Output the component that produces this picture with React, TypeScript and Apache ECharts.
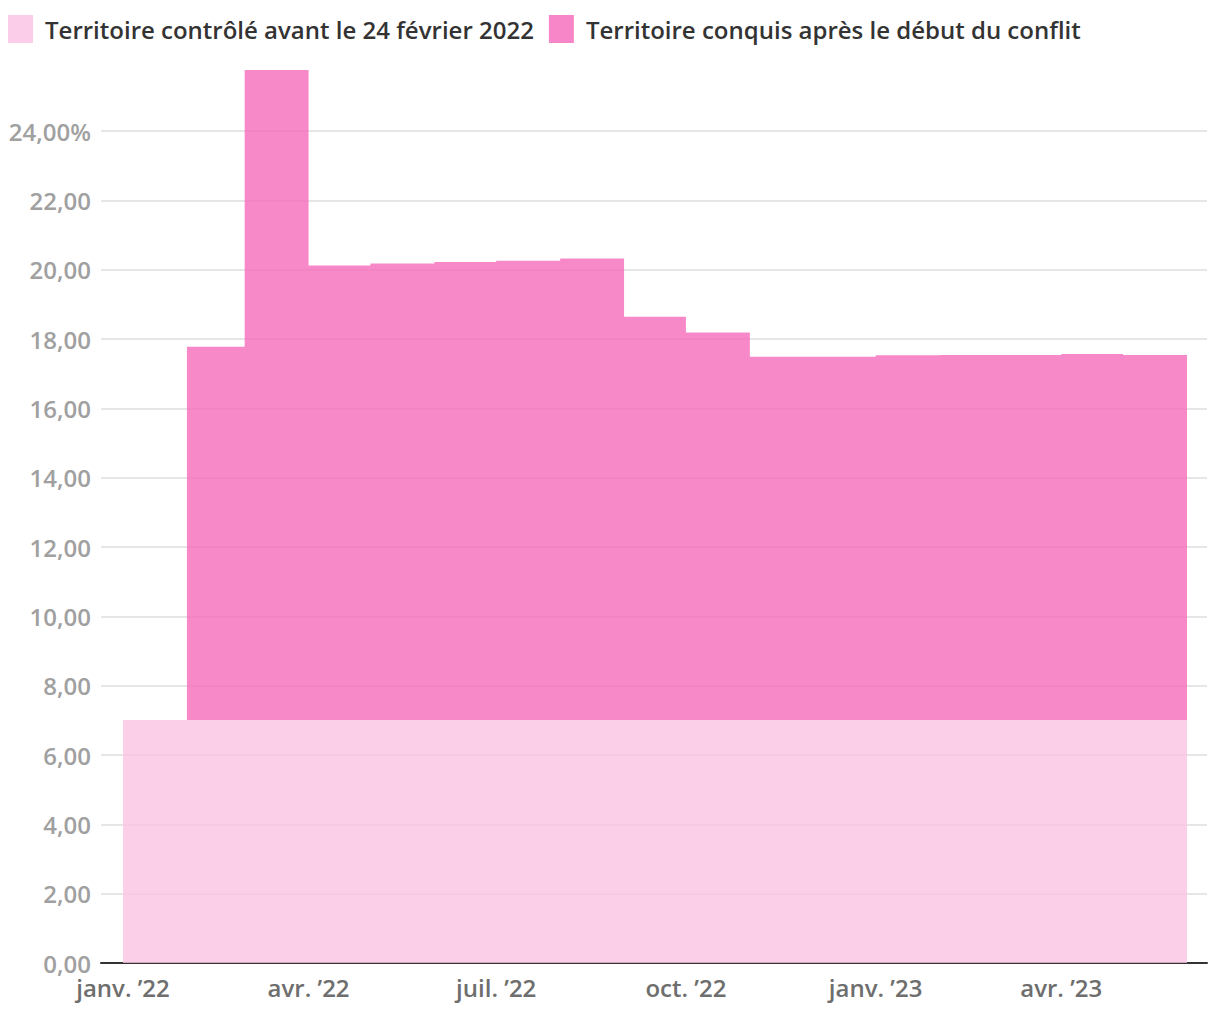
import React, { useEffect, useRef } from "react";
import * as echarts from "echarts";

const months = [
  "2022-01", "2022-02", "2022-03", "2022-04", "2022-05", "2022-06",
  "2022-07", "2022-08", "2022-09", "2022-10", "2022-11", "2022-12",
  "2023-01", "2023-02", "2023-03", "2023-04", "2023-05",
];
const endMonth = "2023-06";

// Territory controlled before 24 Feb 2022 (%)
const before = [
  7.01, 7.01, 7.01, 7.01, 7.01, 7.01, 7.01, 7.01, 7.01,
  7.01, 7.01, 7.01, 7.01, 7.01, 7.01, 7.01, 7.01,
];
// Total territory controlled (%)
const totals = [
  7.01, 17.78, 25.76, 20.12, 20.18, 20.22, 20.26, 20.32, 18.64,
  18.19, 17.49, 17.49, 17.53, 17.54, 17.54, 17.57, 17.54,
];

const tickMonths = ["2022-01", "2022-04", "2022-07", "2022-10", "2023-01", "2023-04"];
const tickLabels = ["janv. ’22", "avr. ’22", "juil. ’22", "oct. ’22", "janv. ’23", "avr. ’23"];

const legendNames = [
  "Territoire contrôlé avant le 24 février 2022",
  "Territoire conquis après le début du conflit",
];

const toTs = (m: string) => {
  const [y, mo] = m.split("-").map(Number);
  return Date.UTC(y, mo - 1, 1);
};

const DAY = 86400000;
const FONT = "'Open Sans', 'Noto Sans', sans-serif";
const FS = 24;
const FW = 600;

export default function App() {
  const ref = useRef<HTMLDivElement>(null);

  useEffect(() => {
    if (!ref.current) return;
    const chart = echarts.init(ref.current, undefined, { renderer: "svg" });

    const xs = [...months.map(toTs), toTs(endMonth)];
    const start = toTs(months[0]);
    const tickValues = tickMonths.map(toTs);

    // polygon builder: lower and upper step boundaries
    const makeRender = (lower: number[], upper: number[], fill: string) =>
      (params: any, api: any) => {
        const pts: number[][] = [];
        for (let i = 0; i < months.length; i++) {
          pts.push(api.coord([xs[i], upper[i]]));
          pts.push(api.coord([xs[i + 1], upper[i]]));
        }
        for (let i = months.length - 1; i >= 0; i--) {
          pts.push(api.coord([xs[i + 1], lower[i]]));
          pts.push(api.coord([xs[i], lower[i]]));
        }
        return {
          type: "polygon",
          shape: { points: pts },
          style: { fill, stroke: "none" },
        };
      };

    const zeros = before.map(() => 0);

    chart.setOption({
      animation: false,
      legend: {
        left: 8,
        top: 15,
        padding: 0,
        itemWidth: 25,
        itemHeight: 28,
        itemGap: 15,
        icon: "rect",
        textStyle: { color: "#333333", fontSize: FS, fontWeight: FW, fontFamily: FONT, padding: [0, 0, 0, 7] },
        data: legendNames,
      },
      grid: { left: 101, right: 13, top: 70, bottom: 57, containLabel: false },
      xAxis: {
        type: "value",
        min: start - 10.67 * DAY,
        max: start + 525.7 * DAY,
        axisLine: { show: true, lineStyle: { color: "#333333", width: 2 } },
        axisTick: { show: false },
        splitLine: { show: false },
        axisLabel: {
          customValues: tickValues,
          color: "#6e6e6e",
          fontSize: FS,
          fontWeight: FW,
          fontFamily: FONT,
          margin: 12,
          formatter: (v: number) => {
            const idx = tickValues.findIndex((t) => Math.abs(t - v) < DAY);
            return idx >= 0 ? tickLabels[idx] : "";
          },
        },
      },
      yAxis: {
        type: "value",
        min: 0,
        max: 25.76,
        interval: 2,
        axisLine: { show: false },
        axisTick: { show: false },
        splitLine: { show: true, showMaxLine: false, lineStyle: { color: "#e6e6e6", width: 2 } },
        axisLabel: {
          color: "#a0a0a0",
          fontSize: FS,
          fontWeight: FW,
          fontFamily: FONT,
          margin: 10,
          showMaxLabel: false,
          formatter: (v: number) => {
            if (v > 25) return "";
            const s = v.toFixed(2).replace(".", ",");
            return Math.abs(v - 24) < 1e-6 ? s + "%" : s;
          },
        },
      },
      series: [
        {
          name: legendNames[0],
          type: "custom",
          clip: false,
          data: [[start, 0]],
          itemStyle: { color: "#fccde8" },
          renderItem: makeRender(zeros, before, "rgba(251,195,228,0.8)"),
        },
        {
          name: legendNames[1],
          type: "custom",
          clip: false,
          data: [[start, 0]],
          itemStyle: { color: "#f786c8" },
          renderItem: makeRender(before, totals, "rgba(246,108,188,0.8)"),
        },
      ],
    });

    return () => chart.dispose();
  }, []);

  return (
    <div
      ref={ref}
      style={{ position: "fixed", left: 0, top: 0, width: 1220, height: 1020, background: "#ffffff" }}
    />
  );
}
